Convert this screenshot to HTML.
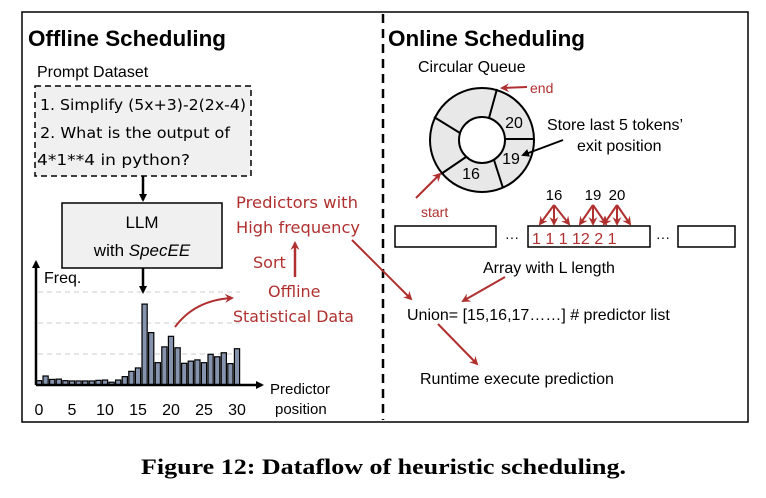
<!DOCTYPE html>
<html><head><meta charset="utf-8"><style>
body{margin:0;background:#fff;}
svg{display:block;font-family:"Liberation Sans",sans-serif;}
.r{fill:#b03030;}
</style></head><body>
<svg width="766" height="498" viewBox="0 0 766 498">
<defs>
<marker id="ak" markerWidth="8" markerHeight="8" refX="6" refY="4" orient="auto" markerUnits="userSpaceOnUse"><path d="M0,0 L8,4 L0,8 z" fill="#000"/></marker>
<marker id="ar" markerWidth="9" markerHeight="9" refX="7" refY="4.5" orient="auto" markerUnits="userSpaceOnUse"><path d="M0,0 L9,4.5 L0,9 L3,4.5 z" fill="#b03030"/></marker>
</defs>
<rect x="22" y="12" width="726" height="410" fill="none" stroke="#000" stroke-width="1.5"/>
<line x1="383" y1="14" x2="383" y2="420" stroke="#000" stroke-width="2.5" stroke-dasharray="9,6"/>

<text x="28" y="46" font-size="22" font-weight="bold" textLength="198" lengthAdjust="spacingAndGlyphs">Offline Scheduling</text>
<text x="37" y="77" font-size="16">Prompt Dataset</text>
<rect x="35" y="86" width="216" height="90" fill="#f0f0f0" stroke="#000" stroke-width="1.5" stroke-dasharray="6,4"/>
<g font-size="15" font-family="DejaVu Sans,sans-serif">
<text x="40" y="110" textLength="206" lengthAdjust="spacingAndGlyphs">1. Simplify (5x+3)-2(2x-4)</text>
<text x="40" y="138" textLength="190" lengthAdjust="spacingAndGlyphs">2. What is the output of</text>
<text x="37" y="165" textLength="153" lengthAdjust="spacingAndGlyphs">4*1**4 in python?</text>
</g>
<line x1="143" y1="176" x2="143" y2="200" stroke="#000" stroke-width="2.5" marker-end="url(#ak)"/>
<rect x="62" y="203" width="160" height="65" fill="#f0f0f0" stroke="#000" stroke-width="1.5"/>
<text x="142" y="228" font-size="17" text-anchor="middle">LLM</text>
<text x="142" y="256" font-size="17" text-anchor="middle">with <tspan font-style="italic">SpecEE</tspan></text>
<line x1="143" y1="268" x2="143" y2="292" stroke="#000" stroke-width="2.5" marker-end="url(#ak)"/>

<g id="chart"></g>

<g font-size="16" font-family="DejaVu Sans,sans-serif" class="r">
<text x="236" y="208" textLength="122" lengthAdjust="spacingAndGlyphs">Predictors with</text>
<text x="236" y="233" textLength="124" lengthAdjust="spacingAndGlyphs">High frequency</text>
<text x="253" y="268">Sort</text>
<text x="268" y="297">Offline</text>
<text x="233" y="322" textLength="121" lengthAdjust="spacingAndGlyphs">Statistical Data</text>
</g>
<line x1="295" y1="277" x2="295" y2="243" stroke="#b03030" stroke-width="2.5" marker-end="url(#ar)"/>
<path d="M175,327 Q195,300 232,298" fill="none" stroke="#b03030" stroke-width="2" marker-end="url(#ar)"/>
<line x1="352" y1="240" x2="411" y2="299" stroke="#b03030" stroke-width="2" marker-end="url(#ar)"/>

<text x="388" y="46" font-size="22" font-weight="bold" textLength="197" lengthAdjust="spacingAndGlyphs">Online Scheduling</text>
<text x="418" y="72" font-size="16">Circular Queue</text>
<g>
<circle cx="482" cy="140" r="52" fill="#e8e8e8" stroke="#000" stroke-width="2"/>
<circle cx="482" cy="140" r="23" fill="#fff" stroke="#000" stroke-width="2"/>
<g stroke="#000" stroke-width="2">
<line x1="489" y1="118" x2="497" y2="89"/>
<line x1="505" y1="139" x2="534" y2="139"/>
<line x1="494" y1="160" x2="503" y2="188"/>
<line x1="466" y1="157" x2="441" y2="174"/>
<line x1="460" y1="133" x2="434" y2="117"/>
</g>
<text x="514" y="128" font-size="16" text-anchor="middle">20</text>
<text x="511" y="164" font-size="16" text-anchor="middle">19</text>
<text x="471" y="179" font-size="16" text-anchor="middle">16</text>
</g>
<line x1="527" y1="87" x2="502" y2="88" stroke="#b03030" stroke-width="2" marker-end="url(#ar)"/>
<text x="530" y="93" font-size="14" class="r">end</text>
<line x1="416" y1="198" x2="440" y2="174" stroke="#b03030" stroke-width="2" marker-end="url(#ar)"/>
<text x="421" y="217" font-size="14" class="r">start</text>
<text x="547" y="130" font-size="16">Store last 5 tokens’</text>
<text x="577" y="151" font-size="16">exit position</text>
<line x1="563" y1="140" x2="523" y2="155" stroke="#000" stroke-width="2" marker-end="url(#ak)"/>

<g>
<rect x="395" y="226" width="101" height="21" fill="#fff" stroke="#000" stroke-width="1.5"/>
<rect x="528" y="226" width="122" height="21" fill="#fff" stroke="#000" stroke-width="1.5"/>
<rect x="678" y="226" width="57" height="21" fill="#fff" stroke="#000" stroke-width="1.5"/>
<text x="505" y="242" font-size="14">···</text>
<text x="656" y="242" font-size="14">···</text>
<text x="532" y="244" font-size="16" class="r">1 1 1 12 2 1</text>
</g>
<g font-size="15" text-anchor="middle">
<text x="554" y="200">16</text><text x="593" y="200">19</text><text x="617" y="200">20</text>
</g>
<g stroke="#b03030" stroke-width="2" fill="none">
<line x1="554" y1="205" x2="540" y2="224" marker-end="url(#ar)"/><line x1="554" y1="205" x2="554" y2="224" marker-end="url(#ar)"/><line x1="554" y1="205" x2="569" y2="224" marker-end="url(#ar)"/>
<line x1="593" y1="205" x2="580" y2="224" marker-end="url(#ar)"/><line x1="593" y1="205" x2="593" y2="224" marker-end="url(#ar)"/><line x1="593" y1="205" x2="606" y2="224" marker-end="url(#ar)"/>
<line x1="617" y1="205" x2="604" y2="224" marker-end="url(#ar)"/><line x1="617" y1="205" x2="617" y2="224" marker-end="url(#ar)"/><line x1="617" y1="205" x2="630" y2="224" marker-end="url(#ar)"/>
</g>
<text x="483" y="273" font-size="16">Array with L length</text>
<line x1="505" y1="277" x2="463" y2="301" stroke="#b03030" stroke-width="2" marker-end="url(#ar)"/>
<text x="407" y="320" font-size="16">Union= [15,16,17……] # predictor list</text>
<line x1="438" y1="324" x2="477" y2="364" stroke="#b03030" stroke-width="2" marker-end="url(#ar)"/>
<text x="420" y="384" font-size="16">Runtime execute prediction</text>

<text x="141" y="474" font-size="22" font-weight="bold" textLength="485" lengthAdjust="spacingAndGlyphs" font-family="Liberation Serif,serif">Figure 12: Dataflow of heuristic scheduling.</text>
</svg>
<script>
const positions = [0,1,2,3,4,5,6,7,8,9,10,11,12,13,14,15,16,17,18,19,20,21,22,23,24,25,26,27,28,29,30];
const freqValues = [0.14,0.29,0.18,0.19,0.14,0.13,0.13,0.13,0.13,0.15,0.16,0.09,0.16,0.27,0.44,0.55,2.61,1.69,0.72,1.23,1.57,1.20,0.70,0.77,0.81,0.72,0.99,0.91,1.04,0.69,1.17];
const xTickLabels = [0,5,10,15,20,25,30];
const gridValues = [1,2,3];
const NS='http://www.w3.org/2000/svg';
const g=document.getElementById('chart');
const x0=39, dx=6.6, base=385, unit=31;
const xs=v=>x0+v*dx, ys=v=>base-v*unit;
function mk(t,a){const e=document.createElementNS(NS,t);for(const k in a)e.setAttribute(k,a[k]);g.appendChild(e);return e;}
gridValues.forEach(v=>{
 const l=mk('line',{x1:38,x2:240,y1:ys(v),y2:ys(v),stroke:'#ccc','stroke-dasharray':'5,4'});
 
 
});
positions.forEach((p,i)=>{
 const h=freqValues[i]*unit;
 const r=mk('rect',{x:xs(p)-2.6,y:base-h,width:5.2,height:h,fill:'#8593ad',stroke:'#000','stroke-width':1.2});
 
 
});
const ya=mk('line',{x1:36,y1:base,x2:36,y2:262,stroke:'#000','stroke-width':2.5,'marker-end':'url(#ak)'});


const xa=mk('line',{x1:36,y1:base,x2:262,y2:base,stroke:'#000','stroke-width':2.5,'marker-end':'url(#ak)'});


xTickLabels.forEach(v=>{
 const t=mk('text',{x:xs(v),y:415,'font-size':16,'text-anchor':'middle'});t.textContent=v;
 
 
});
const f=mk('text',{x:44,y:283,'font-size':16});f.textContent='Freq.';


const p1=mk('text',{x:270,y:394,'font-size':15});p1.textContent='Predictor';


const p2=mk('text',{x:275,y:414,'font-size':15});p2.textContent='position';


</script>
</body></html>
